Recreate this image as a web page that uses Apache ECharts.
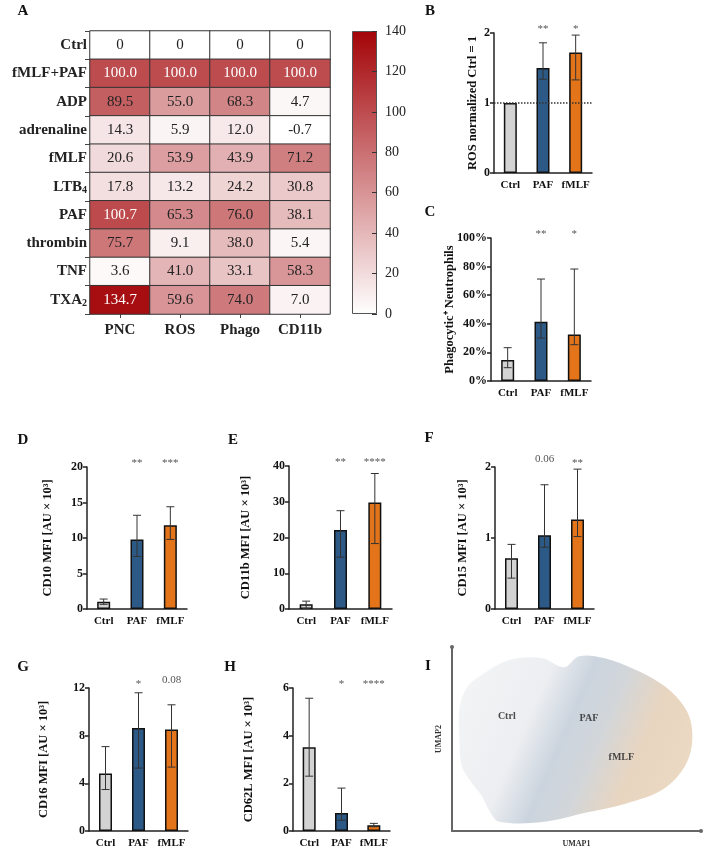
<!DOCTYPE html>
<html>
<head>
<meta charset="utf-8">
<script src="https://cdn.jsdelivr.net/npm/echarts@6/dist/echarts.min.js"></script>
<style>
html, body { margin: 0; padding: 0; background: #fff; }
#main { width: 709px; height: 855px; }
</style>
</head>
<body>
<div id="main"></div>
<script>
// --- heatmap (A) ---
const hmRows = ['Ctrl', 'fMLF+PAF', 'ADP', 'adrenaline', 'fMLF', 'LTB₄', 'PAF', 'thrombin', 'TNF', 'TXA₂']
const hmCols = ['PNC', 'ROS', 'Phago', 'CD11b']
const pncVals = [0, 100.0, 89.5, 14.3, 20.6, 17.8, 100.7, 75.7, 3.6, 134.7]
const rosVals = [0, 100.0, 55.0, 5.9, 53.9, 13.2, 65.3, 9.1, 41.0, 59.6]
const phagoVals = [0, 100.0, 68.3, 12.0, 43.9, 24.2, 76.0, 38.0, 33.1, 74.0]
const cd11bVals = [0, 100.0, 4.7, -0.7, 71.2, 30.8, 38.1, 5.4, 58.3, 7.0]
const colorMin = 0
const colorMax = 140

// --- bar panels (B-H) ---
const groups = ['Ctrl', 'PAF', 'fMLF']
const rosMean = [1.0, 1.5, 1.72]
const rosLow = [null, 1.34, 1.33]
const rosHigh = [null, 1.86, 1.97]
const phagoMean = [14.7, 41.5, 32.6]
const phagoLow = [9.3, 30.0, 25.4]
const phagoHigh = [23.3, 71.3, 78.3]
const cd10Mean = [1.03, 9.8, 11.8]
const cd10Low = [0.66, 7.4, 9.8]
const cd10High = [1.4, 13.2, 14.4]
const cd11bMean = [1.3, 22.1, 29.8]
const cd11bLow = [0.1, 14.5, 18.3]
const cd11bHigh = [2.2, 27.5, 37.9]
const cd15Mean = [0.715, 1.04, 1.26]
const cd15Low = [0.435, 0.87, 1.02]
const cd15High = [0.91, 1.75, 1.97]
const cd16Mean = [4.83, 8.65, 8.51]
const cd16Low = [3.48, 5.28, 5.36]
const cd16High = [7.08, 11.6, 10.59]
const cd62lMean = [3.51, 0.76, 0.24]
const cd62lLow = [2.3, 0.45, 0.18]
const cd62lHigh = [5.57, 1.8, 0.32]

// --- UMAP (I): outline of the cloud and region labels, in UMAP units ---
const umapX = [11, 23, 36, 45, 51, 61, 73, 84, 92, 96, 96, 92, 84, 70, 54, 37, 19, 15, 12, 8, 4, 3, 3, 6]
const umapY = [84, 93, 94, 89, 95, 94, 88, 80, 70, 59, 44, 32, 22, 15, 10, 5, 5, 11, 19, 26, 35, 50, 67, 78]
const umapLabels = ['Ctrl', 'PAF', 'fMLF']
const umapLabelX = [22, 55, 68]
const umapLabelY = [62, 61, 40]

const serif = "'Liberation Serif', 'Times New Roman', serif"
const barColors = ['#d3d3d3', '#2d5986', '#e3741a']
const heatLow = '#ffffff'
const heatHigh = '#a30408'
const ink = '#222'

let grid = []
let xAxis = []
let yAxis = []
let series = []

// heatmap grid
grid.push({ left: 90, top: 31, width: 240, height: 283, outerBoundsMode: 'none' })
xAxis.push({
  gridIndex: 0, type: 'category', data: hmCols, position: 'bottom',
  axisLine: { show: false },
  axisTick: { show: true, alignWithLabel: true, length: 4, lineStyle: { color: '#444' } },
  axisLabel: { fontFamily: serif, fontWeight: 'bold', fontSize: 15, color: ink, margin: 9 }
})
yAxis.push({
  gridIndex: 0, type: 'category', data: hmRows, inverse: true,
  axisLine: { show: false },
  axisTick: { show: true, length: 5, lineStyle: { color: '#444' } },
  axisLabel: {
    fontFamily: serif, fontWeight: 'bold', fontSize: 15, color: ink, margin: 3,
    formatter: v => v.replace('₄', '{sub|4}').replace('₂', '{sub|2}'),
    rich: { sub: { fontFamily: serif, fontWeight: 'bold', fontSize: 10, color: ink, padding: [8, 0, 0, 0] } }
  }
})
let hmData = []
const colVals = [pncVals, rosVals, phagoVals, cd11bVals]
colVals.forEach((vals, c) => {
  vals.forEach((v, r) => {
    hmData.push({ value: [c, r, v], label: { color: v > 95 ? '#fff' : ink } })
  })
})
series.push({
  type: 'heatmap', xAxisIndex: 0, yAxisIndex: 0, data: hmData,
  itemStyle: { borderColor: '#333', borderWidth: 1 },
  label: {
    show: true, fontFamily: serif, fontSize: 15,
    formatter: p => p.value[2] === 0 ? '0' : p.value[2].toFixed(1)
  },
  emphasis: { disabled: true }
})

// colorbar: one full-height bar with the scale gradient, axis for its ticks
grid.push({ left: 352, top: 31, width: 25, height: 283, outerBoundsMode: 'none' })
xAxis.push({ gridIndex: 1, type: 'category', data: [''], show: false })
yAxis.push({
  gridIndex: 1, type: 'value', position: 'right', min: colorMin, max: colorMax, interval: 20, z: 5,
  splitLine: { show: false }, axisLine: { show: false },
  axisTick: { show: true, inside: true, length: 5, lineStyle: { color: '#333' } },
  axisLabel: { fontFamily: serif, fontSize: 14, color: ink, margin: 8 }
})
series.push({
  type: 'bar', xAxisIndex: 1, yAxisIndex: 1, barWidth: '100%', data: [colorMax],
  itemStyle: {
    borderColor: '#555', borderWidth: 1,
    color: {
      type: 'linear', x: 0, y: 0, x2: 0, y2: 1,
      colorStops: [{ offset: 0, color: heatHigh }, { offset: 1, color: heatLow }]
    }
  },
  emphasis: { disabled: true }
})

function addBarPanel (box, mean, low, high, annot, yMax, yInt, yName, nameGap, fmt, tickSize) {
  const gi = grid.length
  grid.push(Object.assign({ outerBoundsMode: 'none' }, box))
  const axisLineStyle = { color: '#222', width: 1.5 }
  xAxis.push({
    gridIndex: gi, type: 'category', data: groups,
    axisLine: { lineStyle: axisLineStyle },
    axisTick: { alignWithLabel: true, length: 4, lineStyle: axisLineStyle },
    axisLabel: { interval: 0, fontFamily: serif, fontWeight: 'bold', fontSize: 11, color: '#111', margin: 7 }
  })
  yAxis.push({
    gridIndex: gi, type: 'value', min: 0, max: yMax, interval: yInt,
    splitLine: { show: false },
    axisLine: { show: true, lineStyle: axisLineStyle },
    axisTick: { show: true, length: 4, lineStyle: axisLineStyle },
    axisLabel: { fontFamily: serif, fontWeight: 'bold', fontSize: tickSize || 12, color: '#111', margin: 4, formatter: fmt },
    name: yName, nameLocation: 'middle', nameGap: nameGap, nameRotate: 90, nameMoveOverlap: false,
    nameTextStyle: { fontFamily: serif, fontWeight: 'bold', fontSize: 12.5, color: '#111' }
  })
  const bar = {
    type: 'bar', xAxisIndex: gi, yAxisIndex: gi, barWidth: 13,
    data: mean.map((v, i) => ({ value: v, itemStyle: { color: barColors[i] } })),
    itemStyle: { borderColor: '#111', borderWidth: 1.5 },
    emphasis: { disabled: true }
  }
  series.push(bar)
  series.push({
    type: 'custom', xAxisIndex: gi, yAxisIndex: gi, z: 5,
    data: groups.map((g, i) => [i, low[i], high[i]]).filter(d => d[1] !== null),
    renderItem: function (params, api) {
      const lo = api.coord([api.value(0), api.value(1)])
      const hi = api.coord([api.value(0), api.value(2)])
      const w = 4
      const st = { stroke: '#333', lineWidth: 1 }
      return {
        type: 'group',
        children: [
          { type: 'line', shape: { x1: lo[0], y1: lo[1], x2: hi[0], y2: hi[1] }, style: st },
          { type: 'line', shape: { x1: hi[0] - w, y1: hi[1], x2: hi[0] + w, y2: hi[1] }, style: st },
          { type: 'line', shape: { x1: lo[0] - w, y1: lo[1], x2: lo[0] + w, y2: lo[1] }, style: st }
        ]
      }
    }
  })
  series.push({
    type: 'custom', xAxisIndex: gi, yAxisIndex: gi, z: 5,
    data: groups.map((g, i) => [i, yMax]),
    renderItem: function (params, api) {
      const p = api.coord([api.value(0), api.value(1)])
      const t = annot[params.dataIndex]
      const isStar = t.indexOf('*') === 0
      return {
        type: 'text', x: p[0], y: p[1] - (isStar ? 4 : 8),
        style: { text: t, align: 'center', verticalAlign: 'middle', fill: '#555', font: '11px ' + serif }
      }
    }
  })
  return bar
}

const rosBar = addBarPanel({ left: 494, top: 33, width: 98, height: 140 }, rosMean, rosLow, rosHigh,
  ['', '**', '*'], 2, 1, 'ROS normalized Ctrl = 1', 15)
rosBar.markLine = {
  silent: true, symbol: 'none', label: { show: false },
  lineStyle: { type: 'dotted', color: '#333', width: 1.5 },
  data: [{ yAxis: 1 }]
}
addBarPanel({ left: 491, top: 238, width: 100, height: 143 }, phagoMean, phagoLow, phagoHigh,
  ['', '**', '*'], 100, 20, 'Phagocytic⁺ Neutrophils', 35, '{value}%', 12)
addBarPanel({ left: 87, top: 467, width: 100, height: 142 }, cd10Mean, cd10Low, cd10High,
  ['', '**', '***'], 20, 5, 'CD10 MFI [AU × 10³]', 33)
addBarPanel({ left: 289, top: 466, width: 103, height: 143 }, cd11bMean, cd11bLow, cd11bHigh,
  ['', '**', '****'], 40, 10, 'CD11b MFI [AU × 10³]', 37)
addBarPanel({ left: 495, top: 467, width: 99, height: 142 }, cd15Mean, cd15Low, cd15High,
  ['', '0.06', '**'], 2, 1, 'CD15 MFI [AU × 10³]', 26)
addBarPanel({ left: 89, top: 688, width: 99, height: 143 }, cd16Mean, cd16Low, cd16High,
  ['', '*', '0.08'], 12, 4, 'CD16 MFI [AU × 10³]', 39)
addBarPanel({ left: 293, top: 688, width: 97, height: 143 }, cd62lMean, cd62lLow, cd62lHigh,
  ['', '*', '****'], 6, 2, 'CD62L MFI [AU × 10³]', 38)

// UMAP panel
const ui = grid.length
grid.push({ left: 452, top: 647, width: 249, height: 184, outerBoundsMode: 'none' })
const umapAxisLine = { show: true, symbol: ['none', 'circle'], symbolSize: [4, 4], lineStyle: { color: '#666', width: 2 } }
xAxis.push({
  gridIndex: ui, type: 'value', min: 0, max: 100,
  splitLine: { show: false }, axisTick: { show: false }, axisLabel: { show: false },
  axisLine: umapAxisLine,
  name: 'UMAP1', nameLocation: 'middle', nameGap: 9,
  nameTextStyle: { fontFamily: serif, fontWeight: 'bold', fontSize: 8, color: '#333' }
})
yAxis.push({
  gridIndex: ui, type: 'value', min: 0, max: 100,
  splitLine: { show: false }, axisTick: { show: false }, axisLabel: { show: false },
  axisLine: umapAxisLine,
  name: 'UMAP2', nameLocation: 'middle', nameGap: 9, nameRotate: 90,
  nameTextStyle: { fontFamily: serif, fontWeight: 'bold', fontSize: 8, color: '#333' }
})
series.push({
  type: 'custom', xAxisIndex: ui, yAxisIndex: ui, data: [[0, 0]],
  renderItem: function (params, api) {
    const pts = umapX.map((x, i) => api.coord([x, umapY[i]]))
    return {
      type: 'polygon',
      shape: { points: pts, smooth: 0.35 },
      style: {
        fill: {
          type: 'linear', x: 0, y: 0.2, x2: 1, y2: 0.8,
          colorStops: [
            { offset: 0, color: '#f3f4f5' },
            { offset: 0.3, color: '#eceef1' },
            { offset: 0.45, color: '#cbd4de' },
            { offset: 0.58, color: '#d2d6da' },
            { offset: 0.75, color: '#e8d5c0' },
            { offset: 1, color: '#eddac5' }
          ]
        }
      }
    }
  }
})
series.push({
  type: 'scatter', xAxisIndex: ui, yAxisIndex: ui, symbolSize: 0,
  data: umapLabels.map((t, i) => ({ name: t, value: [umapLabelX[i], umapLabelY[i]] })),
  label: { show: true, position: 'inside', formatter: '{b}', fontFamily: serif, fontWeight: 'bold', fontSize: 10, color: '#222' }
})

const letters = [['A', 23, 11], ['B', 430, 11], ['C', 430, 212], ['D', 23, 440], ['E', 233, 440],
  ['F', 429, 438], ['G', 23, 667], ['H', 230, 667], ['I', 428, 666]]

let option = {
  animation: false,
  backgroundColor: '#fff',
  grid: grid,
  xAxis: xAxis,
  yAxis: yAxis,
  visualMap: {
    type: 'continuous', seriesIndex: 0, min: colorMin, max: colorMax, show: false,
    inRange: { color: [heatLow, heatHigh] }
  },
  graphic: letters.map(l => ({
    type: 'text', x: l[1], y: l[2],
    style: { text: l[0], font: 'bold 15px ' + serif, fill: '#111', align: 'center', verticalAlign: 'middle' }
  })),
  series: series
}

let chart = echarts.init(document.getElementById('main'))
chart.setOption(option)
</script>
</body>
</html>
